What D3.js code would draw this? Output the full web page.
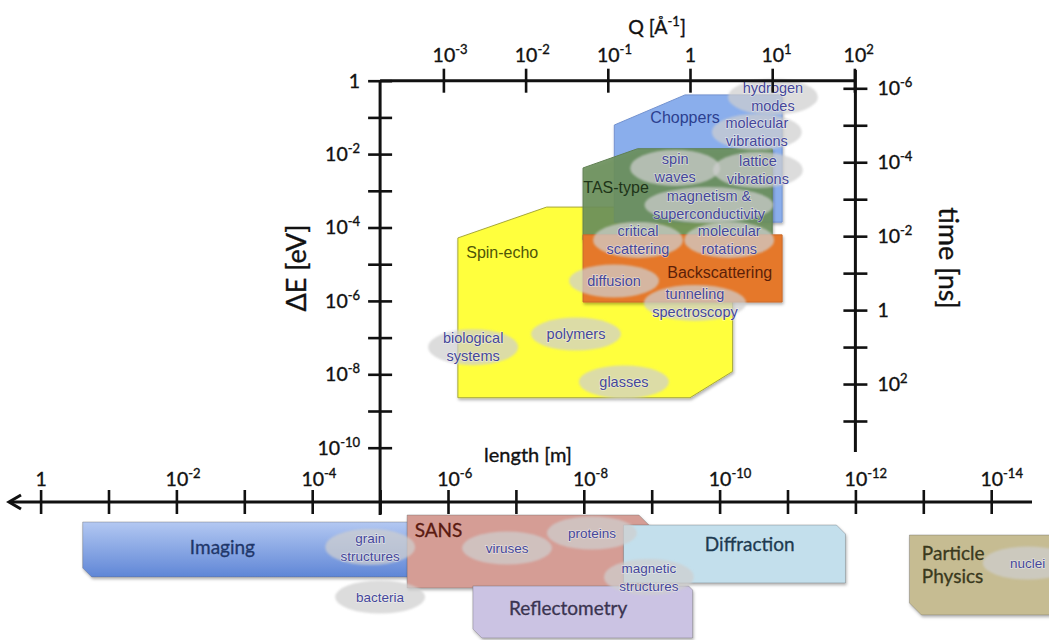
<!DOCTYPE html>
<html>
<head>
<meta charset="utf-8">
<script src="https://cdn.jsdelivr.net/npm/d3@7"></script>
<style>
  body { margin: 0; background: #fff; }
  svg { display: block; }
</style>
</head>
<body>
<svg id="chart" width="1049" height="640"></svg>
<script>
// ---------------------------------------------------------------
// Neutron scattering techniques: energy transfer ΔE against
// momentum transfer Q, plus the real-space length scales below.
// ---------------------------------------------------------------

// Axis ticks (decades)
const qTicks = [1e-3, 1e-2, 1e-1, 1, 1e1, 1e2];
const eTicks = [1, 1e-1, 1e-2, 1e-3, 1e-4, 1e-5, 1e-6, 1e-7, 1e-8, 1e-9, 1e-10];
const eLabelled = [0, -2, -4, -6, -8, -10];
const tTicks = [1e-6, 1e-5, 1e-4, 1e-3, 1e-2, 1e-1, 1, 1e1, 1e2, 1e3];
const tLabelled = [-6, -4, -2, 0, 2];
const lenTicks = [1, 1e-1, 1e-2, 1e-3, 1e-4, 1e-5, 1e-6, 1e-7, 1e-8, 1e-9, 1e-10, 1e-11, 1e-12, 1e-13, 1e-14];
const lenLabelled = [0, -2, -4, -6, -8, -10, -12, -14];

// Spectrometer coverage as polygons of [Q (Å⁻¹), ΔE (eV)]
const spinEchoQE = [[1.5e-3, 2.3e-9], [1.5e-3, 5.2e-5], [0.018, 3.6e-4], [3.3, 3.6e-4], [3.3, 1.2e-8], [1.0, 2.3e-9]];
const choppersQE = [[0.12, 1.4e-4], [0.12, 0.062], [0.87, 0.41], [13.2, 0.41], [13.2, 1.4e-4]];
const tasQE = [[0.05, 4.6e-5], [0.05, 4.2e-3], [0.23, 1.4e-2], [10, 1.4e-2], [10, 4.6e-5]];
const backscatteringQE = [[0.05, 9.3e-7], [0.05, 6.3e-5], [13.2, 6.3e-5], [13.2, 9.3e-7]];

// Spectrometer names and where their names sit
const regionNames = ["Spin-echo", "Choppers", "TAS-type", "Backscattering"];
const regionLabelQ = [5.2e-3, 0.87, 0.126, 2.3];
const regionLabelE = [2.1e-5, 0.1, 1.2e-3, 5.8e-6];

// Dynamics studied in each part of the (Q, ΔE) plane
const topicNames = [
  ["hydrogen", "modes"], ["molecular", "vibrations"], ["spin", "waves"],
  ["lattice", "vibrations"], ["magnetism &", "superconductivity"],
  ["critical", "scattering"], ["molecular", "rotations"], ["diffusion"],
  ["tunneling", "spectroscopy"], ["polymers"], ["biological", "systems"], ["glasses"]
];
const topicQ = [10.2, 6.5, 0.66, 6.7, 1.7, 0.233, 3.0, 0.119, 1.15, 0.041, 2.3e-3, 0.157];
const topicE = [0.36, 0.04, 4.2e-3, 3.7e-3, 4.1e-4, 4.6e-5, 4.6e-5, 3.5e-6, 8.8e-7, 1.25e-7, 5.5e-8, 6.2e-9];

// Structural techniques: length range in metres (large → small)
const techniqueNames = ["Imaging", "SANS", "Reflectometry", "Diffraction", "Particle Physics"];
const techniqueFrom = [0.24, 4e-6, 4.3e-7, 2.6e-9, 1.6e-13];
const techniqueTo = [2.6e-6, 1.1e-9, 2.5e-10, 1.4e-12, 1e-15];
const techniqueLabelL = [2.1e-3, 3.1e-6, 1.7e-8, 3.6e-11, 1.05e-13];

// Structures studied at each length scale
const lengthTopics = [["grain", "structures"], ["bacteria"], ["viruses"], ["proteins"], ["magnetic", "structures"], ["nuclei"]];
const lengthTopicL = [1.4e-5, 1e-5, 1.35e-7, 7.6e-9, 1.1e-9, 2.9e-15];

// ---------------------------------------------------------------
const svg = d3.select("#chart");
const AXIS_FONT = "Lato, 'Open Sans', sans-serif";
const LABEL_FONT = "'Liberation Sans', Arial, sans-serif";

const x = d3.scaleLog().domain([1e-3, 1e2]).range([443.4, 854.4]);
const y = d3.scaleLog().domain([1, 1e-10]).range([80.7, 447.7]);
const yTime = d3.scaleLog().domain([1e-6, 1e3]).range([88.3, 421]);
const xLen = d3.scaleLog().domain([1, 1e-14]).range([40.6, 991.2]);

const lenAxisY = 502;
const frameLeft = xLen(1e-5);
const frameRight = xLen(1e-12);

// Filters and gradients
const defs = svg.append("defs");
const shadow = defs.append("filter").attr("id", "shadow")
  .attr("x", "-5%").attr("y", "-10%").attr("width", "115%").attr("height", "130%");
shadow.append("feDropShadow").attr("dx", 1).attr("dy", 2).attr("stdDeviation", 1.6)
  .attr("flood-color", "#000").attr("flood-opacity", 0.3);
const soft = defs.append("filter").attr("id", "soft")
  .attr("x", "-10%").attr("y", "-20%").attr("width", "120%").attr("height", "140%");
soft.append("feGaussianBlur").attr("stdDeviation", 0.9);
const imgGrad = defs.append("linearGradient").attr("id", "imgGrad")
  .attr("x1", 0).attr("y1", 0).attr("x2", 0).attr("y2", 1);
imgGrad.append("stop").attr("offset", "0%").attr("stop-color", "#b3c8f2");
imgGrad.append("stop").attr("offset", "100%").attr("stop-color", "#5f86d6");

// Superscript tick labels: 10^n, with "10" centred on the tick
function powerLabel(text, exp, anchor) {
  text.text(null);
  if (exp === 0) {
    text.append("tspan").text("1");
    text.attr("text-anchor", anchor === "start-centred" ? "middle" : anchor);
    return;
  }
  const base = text.append("tspan").text("10");
  text.append("tspan").attr("dy", -8).attr("font-size", 13).text(exp);
  if (anchor === "start-centred") {
    text.attr("text-anchor", "start");
    text.attr("x", -base.node().getComputedTextLength() / 2);
  } else {
    text.attr("text-anchor", anchor);
  }
}

function styleTicks(g, vertical) {
  g.select(".domain").remove();
  g.attr("font-family", AXIS_FONT).attr("font-size", 19.5);
  const lines = g.selectAll(".tick line").attr("stroke", "#111").attr("stroke-width", 2.6);
  if (vertical) lines.attr("y1", 12).attr("y2", -12);
  else lines.attr("x1", -12).attr("x2", 12);
  g.selectAll(".tick text").attr("fill", "#111").attr("stroke", "#111").attr("stroke-width", 0.35);
}

// ----- Spectrometer regions -----
const plot = svg.append("g");
const poly = d3.line().x(d => x(d[0])).y(d => y(d[1]));
const regions = [
  { pts: spinEchoQE, fill: "#ffff3c", stroke: "#a7a83a", op: 1 },
  { pts: choppersQE, fill: "#8aaeec", stroke: "#7392cf", op: 1 },
  { pts: tasQE, fill: "#6b905b", stroke: "#5f7f52", op: 0.9 },
  { pts: backscatteringQE, fill: "#e5782b", stroke: "#c9692a", op: 1 }
];
regions.forEach(r => {
  plot.append("path").attr("d", poly(r.pts) + "Z")
    .attr("fill", r.fill).attr("fill-opacity", r.op)
    .attr("stroke", r.stroke).attr("stroke-width", 1)
    .attr("filter", "url(#shadow)");
});

// Ellipse with one or two centred lines of text
function topicBubble(parent, cx, cy, lines, fontSize) {
  const g = parent.append("g").attr("transform", `translate(${cx},${cy})`);
  const ell = g.append("ellipse").attr("fill", "#cfcfcf").attr("fill-opacity", 0.72)
    .attr("filter", "url(#soft)");
  const t = g.append("text").attr("text-anchor", "middle")
    .attr("font-family", LABEL_FONT).attr("font-size", fontSize)
    .attr("fill", "#45479a").attr("stroke", "rgba(255,255,255,0.45)")
    .attr("stroke-width", 1.4).attr("paint-order", "stroke");
  const n = lines.length;
  lines.forEach((s, i) => {
    t.append("tspan").attr("x", 0).attr("y", (i - (n - 1) / 2) * 18).attr("dy", "0.35em").text(s);
  });
  const w = t.node().getBBox().width;
  ell.attr("rx", Math.max(45, w / 2 + 8)).attr("ry", n > 1 ? 18 : 16.5);
  return g;
}

topicNames.forEach((lines, i) => {
  topicBubble(plot, x(topicQ[i]), y(topicE[i]), lines, 14.5);
});

const regionColours = ["#4f5508", "#2c3f8f", "#1e3418", "#5c1f08"];
regionNames.forEach((name, i) => {
  plot.append("text").attr("x", x(regionLabelQ[i])).attr("y", y(regionLabelE[i]))
    .attr("dy", "0.35em").attr("text-anchor", "middle")
    .attr("font-family", LABEL_FONT).attr("font-size", 16)
    .attr("fill", regionColours[i]).text(name);
});

// ----- Axes of the (Q, ΔE) frame -----
const axes = svg.append("g").attr("stroke-linecap", "butt");
axes.append("line").attr("x1", frameLeft).attr("x2", x(1e2)).attr("y1", y(1)).attr("y2", y(1))
  .attr("stroke", "#111").attr("stroke-width", 3);
axes.append("line").attr("x1", frameLeft).attr("x2", frameLeft).attr("y1", y(1)).attr("y2", lenAxisY + 13)
  .attr("stroke", "#111").attr("stroke-width", 3);
axes.append("line").attr("x1", frameRight).attr("x2", frameRight).attr("y1", 70).attr("y2", 452)
  .attr("stroke", "#111").attr("stroke-width", 3);

// Q axis (top)
const gQ = svg.append("g").attr("transform", `translate(0,${y(1)})`)
  .call(d3.axisTop(x).tickValues(qTicks).tickSize(12).tickPadding(7));
styleTicks(gQ, true);
gQ.selectAll(".tick text").each(function (d) {
  powerLabel(d3.select(this), Math.round(Math.log10(d)), "start-centred");
});

// ΔE axis (left)
const gE = svg.append("g").attr("transform", `translate(${frameLeft},0)`)
  .call(d3.axisLeft(y).tickValues(eTicks).tickSize(12).tickPadding(8));
styleTicks(gE, false);
gE.selectAll(".tick text").each(function (d) {
  const e = Math.round(Math.log10(d));
  const t = d3.select(this);
  if (eLabelled.includes(e)) powerLabel(t, e, "end"); else t.text(null);
  t.attr("x", -20).attr("dy", "0.33em");
});

// time axis (right)
const gT = svg.append("g").attr("transform", `translate(${frameRight},0)`)
  .call(d3.axisRight(yTime).tickValues(tTicks).tickSize(12).tickPadding(10));
styleTicks(gT, false);
gT.selectAll(".tick text").each(function (d) {
  const e = Math.round(Math.log10(d));
  const t = d3.select(this);
  if (tLabelled.includes(e)) powerLabel(t, e, "start"); else t.text(null);
  t.attr("x", 22).attr("dy", "0.33em");
});

// length axis (horizontal, with arrow pointing to large lengths)
svg.append("line").attr("x1", 10).attr("x2", 1032).attr("y1", lenAxisY).attr("y2", lenAxisY)
  .attr("stroke", "#111").attr("stroke-width", 3);
svg.append("path").attr("d", `M21,${lenAxisY - 7}L9,${lenAxisY}L21,${lenAxisY + 7}`)
  .attr("fill", "none").attr("stroke", "#111").attr("stroke-width", 3);
const gL = svg.append("g").attr("transform", `translate(0,${lenAxisY})`)
  .call(d3.axisTop(xLen).tickValues(lenTicks).tickSize(12).tickPadding(4));
styleTicks(gL, true);
gL.selectAll(".tick text").each(function (d) {
  const e = Math.round(Math.log10(d));
  const t = d3.select(this);
  if (lenLabelled.includes(e)) powerLabel(t, e, "start-centred"); else t.text(null);
});

// Axis titles
const title = svg.append("g").attr("font-family", AXIS_FONT).attr("fill", "#111")
  .attr("stroke", "#111").attr("stroke-width", 0.35);
const qt = title.append("text").attr("x", 657).attr("y", 34).attr("text-anchor", "middle")
  .attr("font-size", 19.5);
qt.append("tspan").text("Q [Å");
qt.append("tspan").attr("dy", -8).attr("font-size", 13).text("-1");
qt.append("tspan").attr("dy", 8).text("]");
title.append("text").attr("transform", "translate(297,268) rotate(-90)").attr("font-size", 27)
  .attr("text-anchor", "middle").attr("dy", "0.35em").text("ΔE [eV]");
title.append("text").attr("transform", "translate(948,258) rotate(90)").attr("font-size", 27)
  .attr("text-anchor", "middle").attr("dy", "0.35em").text("time [ns]");
title.append("text").attr("x", 528).attr("y", 462).attr("text-anchor", "middle")
  .attr("font-size", 20).text("length [m]");

// ----- Structural techniques along the length axis -----
const boxLayout = {
  "Imaging":          { top: 522, bottom: 577, cutTR: 0, cutBL: 9,  fill: "url(#imgGrad)", ink: "#1f376a", anchor: "middle", ty: [547] },
  "SANS":             { top: 515, bottom: 588, cutTR: 10, cutBL: 0, fill: "#d59d95", ink: "#5a1a10", anchor: "start", ty: [530] },
  "Reflectometry":    { top: 586, bottom: 638, cutTR: 4, cutBL: 9,  fill: "#cbc3e3", ink: "#3a3450", anchor: "middle", ty: [608] },
  "Diffraction":      { top: 525, bottom: 583, cutTR: 9, cutBL: 0,  fill: "#c3dfec", ink: "#1e3a50", anchor: "middle", ty: [544] },
  "Particle Physics": { top: 535, bottom: 615, cutTR: 8, cutBL: 12, fill: "#c6bc92", ink: "#3a391d", anchor: "start", ty: [553, 576] }
};
const bottom = svg.append("g");
techniqueNames.forEach((name, i) => {
  const L = boxLayout[name];
  const x0 = xLen(techniqueFrom[i]), x1 = xLen(techniqueTo[i]);
  const pts = [[x0, L.top], [x1 - L.cutTR, L.top], [x1, L.top + L.cutTR], [x1, L.bottom],
               [x0 + L.cutBL, L.bottom], [x0, L.bottom - L.cutBL]];
  bottom.append("path").attr("d", d3.line()(pts) + "Z")
    .attr("fill", L.fill).attr("stroke", "rgba(90,90,90,0.35)").attr("stroke-width", 1)
    .attr("filter", "url(#shadow)");
  const words = name === "Particle Physics" ? ["Particle", "Physics"] : [name];
  words.forEach((w, k) => {
    bottom.append("text").attr("x", xLen(techniqueLabelL[i])).attr("y", L.ty[k])
      .attr("dy", "0.35em").attr("text-anchor", L.anchor)
      .attr("font-family", AXIS_FONT).attr("font-size", 19).attr("fill", L.ink)
      .attr("stroke", L.ink).attr("stroke-width", 0.3).text(w);
  });
});

const lengthTopicY = [547, 597, 548, 533, 577, 563];
lengthTopics.forEach((lines, i) => {
  topicBubble(bottom, xLen(lengthTopicL[i]), lengthTopicY[i], lines, 13.5);
});
</script>
</body>
</html>
